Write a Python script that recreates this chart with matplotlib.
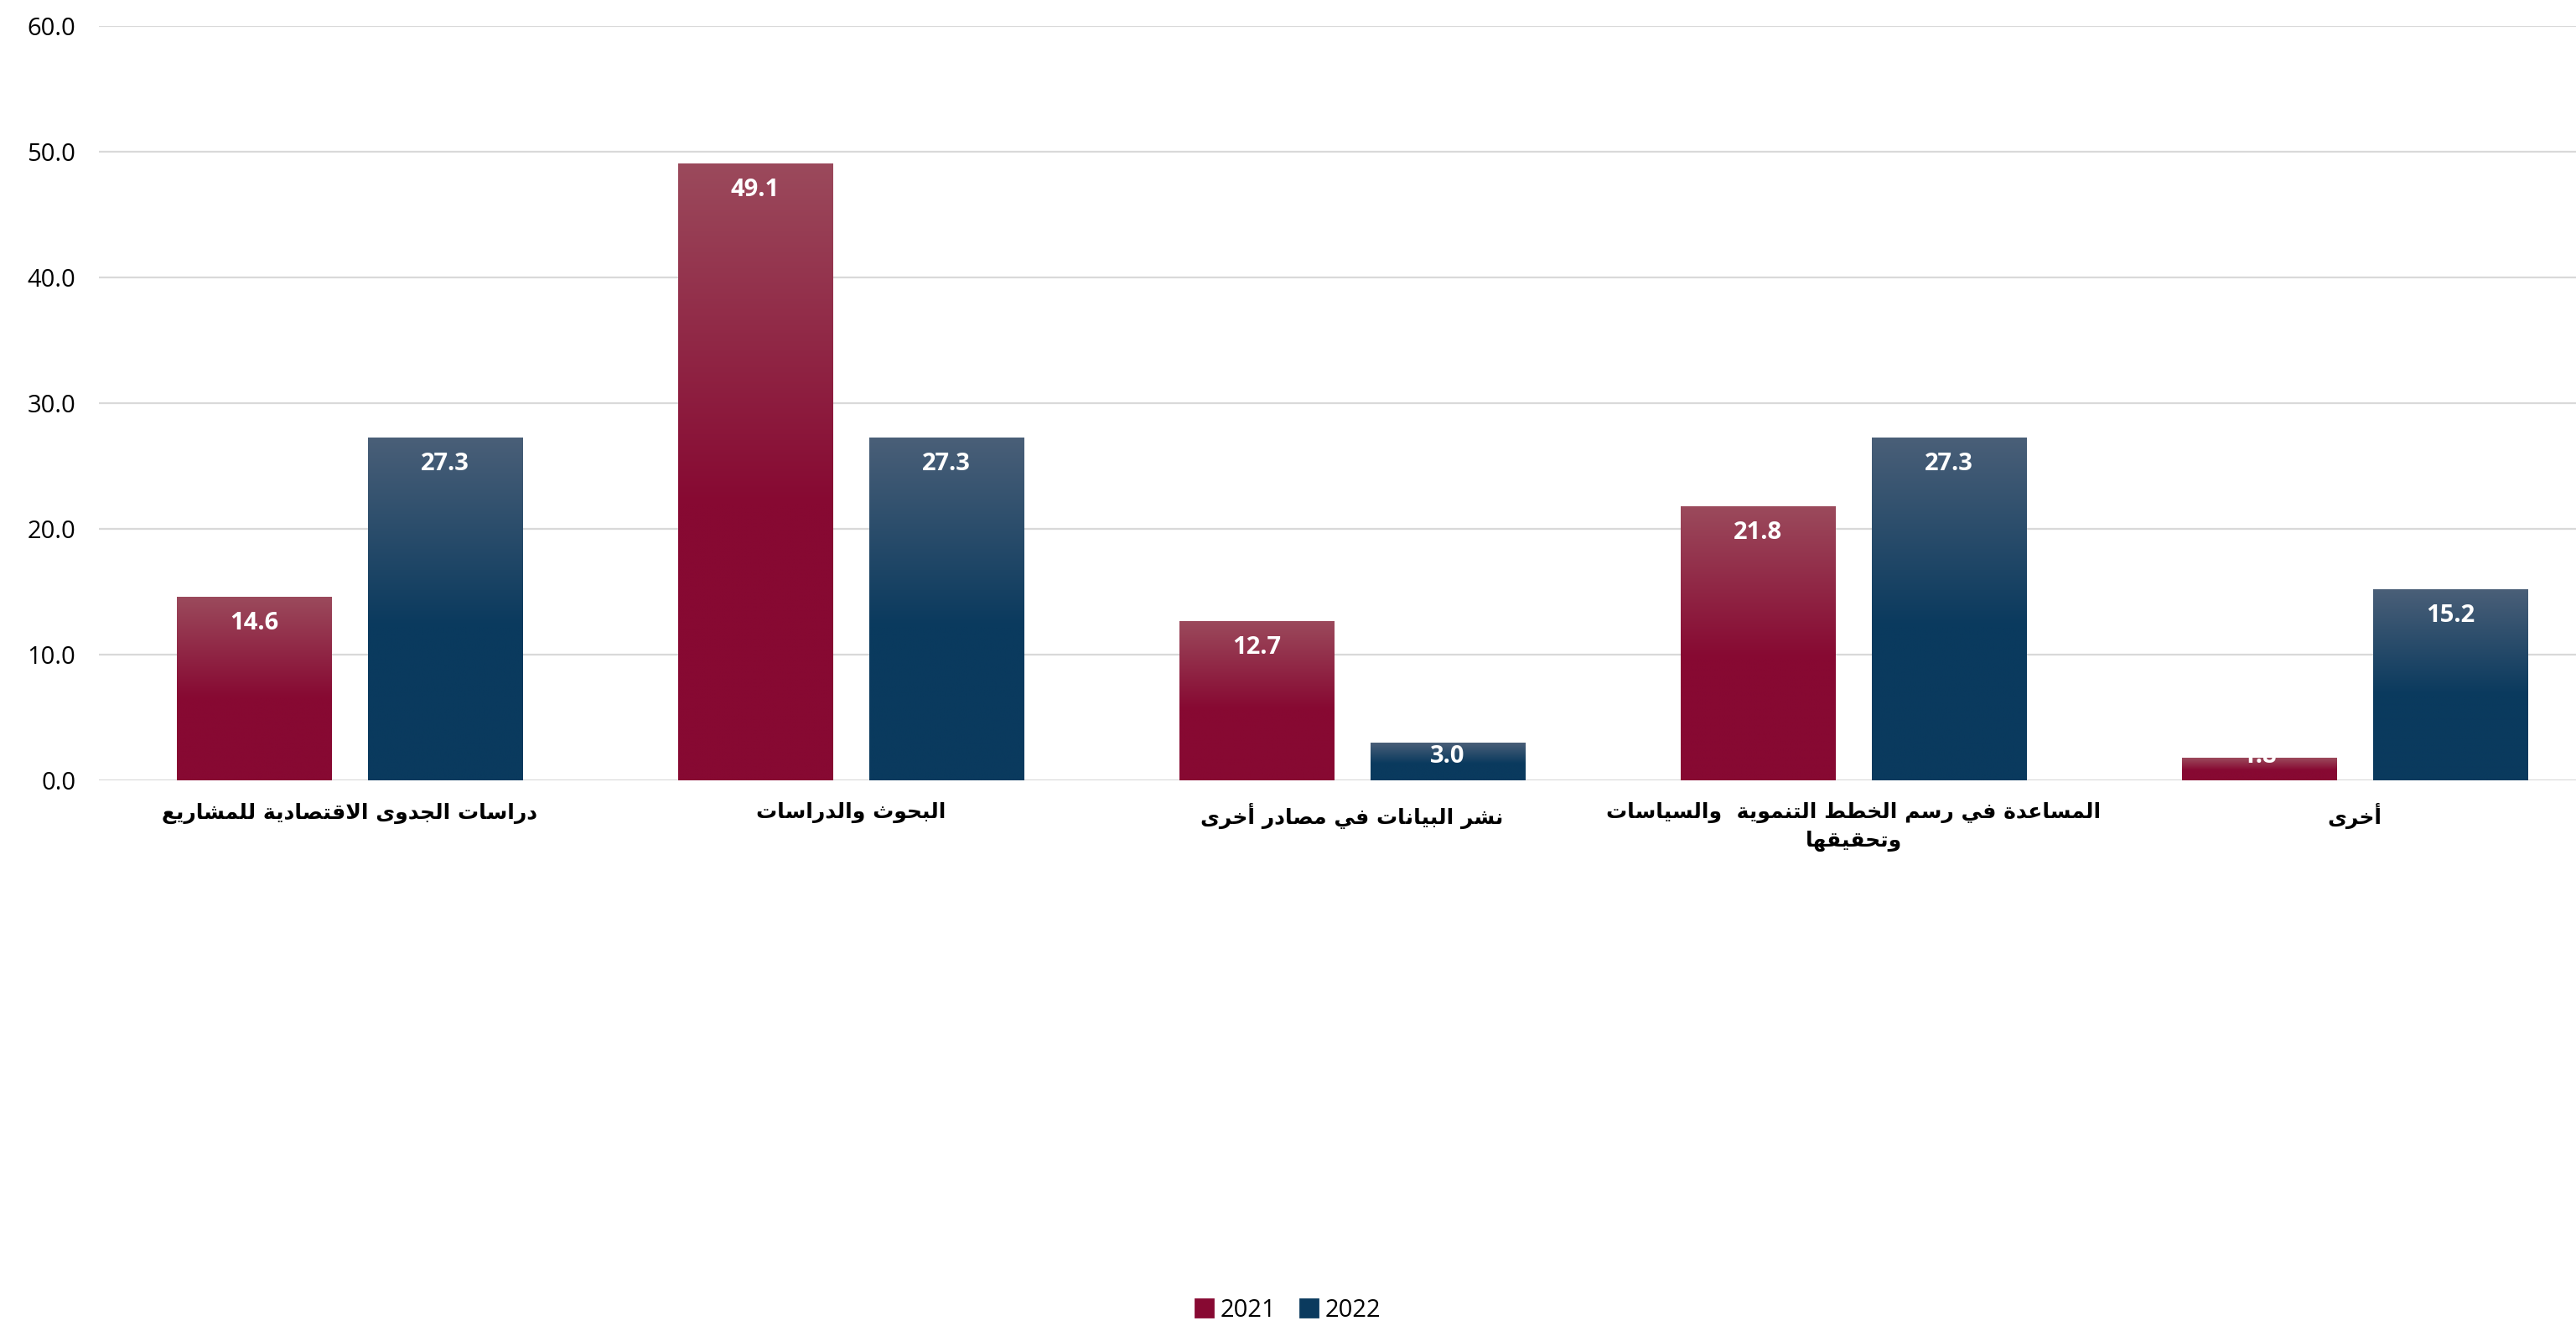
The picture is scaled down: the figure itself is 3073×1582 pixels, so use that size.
import numpy as np
import matplotlib.pyplot as plt
from matplotlib.colors import to_rgb
from matplotlib.patches import Patch

# categories (Arabic) and values per year
categories = [
    'دراسات الجدوى الاقتصادية للمشاريع',
    'البحوث والدراسات',
    'نشر البيانات في مصادر أخرى',
    'المساعدة في رسم الخطط التنموية  والسياسات\nوتحقيقها',
    'أخرى',
]
values_2021 = [14.6, 49.1, 12.7, 21.8, 1.8]
values_2022 = [27.3, 27.3, 3.0, 27.3, 15.2]
series_names = ['2021', '2022']
y_ticks = [0, 10, 20, 30, 40, 50, 60]

# gradient colours (top, bottom) for each series
grad_2021 = ('#9b4a5c', '#870932')
grad_2022 = ('#4a5f78', '#0a3a5e')

# --- minimal Arabic shaping (matplotlib does no complex text layout) ---
# forms: isolated, final, initial, medial
AR_FORMS = {
    'ا': (0xFE8D, 0xFE8E, None, None),
    'أ': (0xFE83, 0xFE84, None, None),
    'ب': (0xFE8F, 0xFE90, 0xFE91, 0xFE92),
    'ة': (0xFE93, 0xFE94, None, None),
    'ت': (0xFE95, 0xFE96, 0xFE97, 0xFE98),
    'ث': (0xFE99, 0xFE9A, 0xFE9B, 0xFE9C),
    'ج': (0xFE9D, 0xFE9E, 0xFE9F, 0xFEA0),
    'ح': (0xFEA1, 0xFEA2, 0xFEA3, 0xFEA4),
    'خ': (0xFEA5, 0xFEA6, 0xFEA7, 0xFEA8),
    'د': (0xFEA9, 0xFEAA, None, None),
    'ر': (0xFEAD, 0xFEAE, None, None),
    'س': (0xFEB1, 0xFEB2, 0xFEB3, 0xFEB4),
    'ش': (0xFEB5, 0xFEB6, 0xFEB7, 0xFEB8),
    'ص': (0xFEB9, 0xFEBA, 0xFEBB, 0xFEBC),
    'ط': (0xFEC1, 0xFEC2, 0xFEC3, 0xFEC4),
    'ع': (0xFEC9, 0xFECA, 0xFECB, 0xFECC),
    'ف': (0xFED1, 0xFED2, 0xFED3, 0xFED4),
    'ق': (0xFED5, 0xFED6, 0xFED7, 0xFED8),
    'ل': (0xFEDD, 0xFEDE, 0xFEDF, 0xFEE0),
    'م': (0xFEE1, 0xFEE2, 0xFEE3, 0xFEE4),
    'ن': (0xFEE5, 0xFEE6, 0xFEE7, 0xFEE8),
    'ه': (0xFEE9, 0xFEEA, 0xFEEB, 0xFEEC),
    'و': (0xFEED, 0xFEEE, None, None),
    'ى': (0xFEEF, 0xFEF0, None, None),
    'ي': (0xFEF1, 0xFEF2, 0xFEF3, 0xFEF4),
}
LAM_ALEF = {'ا': (0xFEFB, 0xFEFC), 'أ': (0xFEF7, 0xFEF8)}


def shape_line(text):
    # merge lam + alef into ligature tokens
    tokens = []
    i = 0
    while i < len(text):
        c = text[i]
        if c == 'ل' and i + 1 < len(text) and text[i + 1] in LAM_ALEF:
            tokens.append(('LA', text[i + 1]))
            i += 2
        else:
            tokens.append(('C', c))
            i += 1

    def joins_forward(tok):
        kind, c = tok
        return kind == 'C' and c in AR_FORMS and AR_FORMS[c][2] is not None

    def is_arabic(tok):
        kind, c = tok
        return kind == 'LA' or c in AR_FORMS

    out = []
    for k, tok in enumerate(tokens):
        kind, c = tok
        prev_j = k > 0 and joins_forward(tokens[k - 1])
        if kind == 'LA':
            iso, fin = LAM_ALEF[c]
            out.append(chr(fin if prev_j else iso))
            continue
        if c not in AR_FORMS:
            out.append(c)
            continue
        iso, fin, ini, med = AR_FORMS[c]
        next_j = ini is not None and k + 1 < len(tokens) and is_arabic(tokens[k + 1])
        if prev_j and next_j:
            out.append(chr(med))
        elif prev_j:
            out.append(chr(fin))
        elif next_j:
            out.append(chr(ini))
        else:
            out.append(chr(iso))
    return ''.join(reversed(out))


def shape(text):
    return '\n'.join(shape_line(line) for line in text.split('\n'))


def gradient_fill(ax, bar, colors, solid_from=0.55):
    # vertical gradient: light at top, solid base colour from solid_from downward
    top, bottom = np.array(to_rgb(colors[0])), np.array(to_rgb(colors[1]))
    n = 256
    t = np.linspace(0, 1, n)  # 0 at top, 1 at bottom
    f = np.clip(t / solid_from, 0, 1)[:, None]
    img = (top * (1 - f) + bottom * f)[:, None, :]
    x0, y0 = bar.get_x(), bar.get_y()
    w, h = bar.get_width(), bar.get_height()
    im = ax.imshow(img, extent=[x0, x0 + w, y0, y0 + h], origin='upper',
                   aspect='auto', zorder=2, interpolation='bilinear')
    im.set_clip_path(bar)


W, H, DPI = 3073, 1582, 200
fig = plt.figure(figsize=(W / DPI, H / DPI), dpi=DPI)
ax = fig.add_axes([118 / W, 651 / H, 2990 / W, 900 / H])

x = np.arange(len(categories))
bar_w = 0.309
offset = 0.1906

bars_a = ax.bar(x - offset, values_2021, bar_w, color='none', zorder=2)
bars_b = ax.bar(x + offset, values_2022, bar_w, color='none', zorder=2)

for bars, grad, vals in [(bars_a, grad_2021, values_2021), (bars_b, grad_2022, values_2022)]:
    for b, v in zip(bars, vals):
        gradient_fill(ax, b, grad)
        # label sits inside the top end, but never below a minimum height
        ly = max(v - 2.13, 1.93)
        ax.text(b.get_x() + b.get_width() / 2, ly, f'{v:.1f}', ha='center', va='center',
                color='white', fontsize=10.5, fontweight='bold', family='Open Sans', zorder=4)

ax.set_xlim(-0.5, len(categories) - 0.5)
ax.set_ylim(0, 60)
ax.set_yticks(y_ticks)
ax.set_yticklabels([f'{t:.1f}' for t in y_ticks], family='Open Sans', fontsize=10.5)
ax.yaxis.grid(True, color='#d9d9d9', linewidth=0.8, zorder=0)
ax.set_axisbelow(True)
ax.tick_params(axis='y', length=0, pad=10)
ax.tick_params(axis='x', length=0, pad=9.5)
for s in ax.spines.values():
    s.set_visible(False)

ax.set_xticks(x)
ax.set_xticklabels([shape(c) for c in categories], family='DejaVu Sans',
                   fontweight='bold', fontsize=9, linespacing=1.45,
                   multialignment='center')

handles = [Patch(color=grad_2021[1]), Patch(color=grad_2022[1])]
fig.legend(handles, series_names, loc='lower center', bbox_to_anchor=(0.5, -0.014),
           ncol=2, frameon=False, prop={'family': 'Open Sans', 'size': 10.5},
           handlelength=0.7, handleheight=0.7, handletextpad=0.3, columnspacing=1.0)

fig.savefig('out.png', dpi=DPI, facecolor='white')
